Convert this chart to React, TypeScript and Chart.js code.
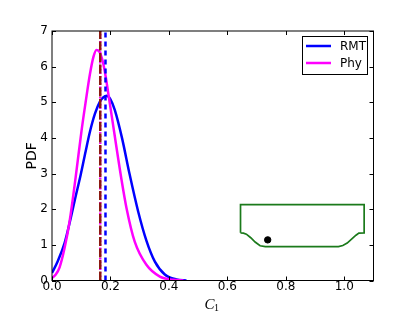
import React, { useEffect, useRef } from "react";
import { Chart, registerables } from "chart.js";

Chart.register(...registerables);

const rmtX = [0, 0.02, 0.043, 0.064, 0.08, 0.098, 0.115, 0.13, 0.147, 0.164, 0.176, 0.187, 0.2, 0.215, 0.24, 0.265, 0.295, 0.323, 0.352, 0.386, 0.426, 0.46];
const rmtY = [0.21, 0.55, 1.05, 1.75, 2.33, 2.96, 3.62, 4.18, 4.68, 5.02, 5.14, 5.18, 5.08, 4.78, 3.98, 3.0, 1.93, 1.12, 0.53, 0.17, 0.03, 0];
const phyX = [0, 0.012, 0.026, 0.043, 0.06, 0.081, 0.101, 0.115, 0.13, 0.142, 0.152, 0.162, 0.172, 0.181, 0.2, 0.238, 0.255, 0.283, 0.323, 0.369, 0.414, 0.45];
const phyY = [0.07, 0.16, 0.37, 0.91, 1.65, 2.9, 4.2, 5.0, 5.8, 6.28, 6.47, 6.42, 6.2, 5.85, 4.85, 2.82, 2.03, 1.09, 0.44, 0.11, 0.02, 0];
const meanRmtX = [0.183, 0.183];
const meanPhyX = [0.165, 0.165];
const meanY = [0, 7];
const shapeX = [0.645, 0.645, 1.068, 1.068, 1.05, 1.04, 1.025, 1.01, 0.995, 0.98, 0.73, 0.712, 0.695, 0.68, 0.665, 0.655, 0.645];
const shapeY = [1.337, 2.13, 2.13, 1.337, 1.33, 1.27, 1.16, 1.05, 0.98, 0.953, 0.953, 0.975, 1.08, 1.2, 1.3, 1.33, 1.337];
const dotX = [0.738];
const dotY = [1.14];
const xTicks = [0, 0.2, 0.4, 0.6, 0.8, 1.0];
const yTicks = [0, 1, 2, 3, 4, 5, 6, 7];
const seriesNames = ["RMT", "Phy"];
const seriesColors = ["#0000ff", "#ff00ff"];
const yTitle = "PDF";

const pts = (xs: number[], ys: number[]) => xs.map((x, i) => ({ x, y: ys[i] }));

const frame = {
  id: "frame",
  afterDatasetsDraw(chart: any) {
    const { ctx, chartArea: a, scales } = chart;
    ctx.save();
    ctx.strokeStyle = "#000";
    ctx.lineWidth = 1;
    ctx.beginPath();
    for (const t of xTicks) {
      const p = Math.round(scales.x.getPixelForValue(t)) + 0.5;
      ctx.moveTo(p, a.bottom);
      ctx.lineTo(p, a.bottom - 4);
      ctx.moveTo(p, a.top);
      ctx.lineTo(p, a.top + 4);
    }
    for (const t of yTicks) {
      const p = Math.round(scales.y.getPixelForValue(t)) + 0.5;
      ctx.moveTo(a.left, p);
      ctx.lineTo(a.left + 4, p);
      ctx.moveTo(a.right, p);
      ctx.lineTo(a.right - 4, p);
    }
    ctx.stroke();
    ctx.strokeRect(a.left, a.top, a.right - a.left, a.bottom - a.top);

    // legend
    ctx.fillStyle = "#fff";
    ctx.fillRect(302.5, 36.5, 65, 38);
    ctx.strokeStyle = "#000";
    ctx.strokeRect(302.5, 36.5, 65, 38);
    const rows = [46, 63];
    ctx.font = "12px 'DejaVu Sans'";
    ctx.textBaseline = "middle";
    seriesNames.forEach((name, i) => {
      ctx.strokeStyle = seriesColors[i];
      ctx.lineWidth = 2.5;
      ctx.beginPath();
      ctx.moveTo(306, rows[i]);
      ctx.lineTo(331, rows[i]);
      ctx.stroke();
      ctx.fillStyle = "#000";
      ctx.fillText(name, 340, rows[i] + 0.5);
    });

    // x axis title with its subscript
    ctx.textBaseline = "alphabetic";
    ctx.fillStyle = "#000";
    ctx.font = "italic 15px 'Liberation Serif'";
    ctx.fillText("C", 204.5, 308.5);
    ctx.font = "10px 'Liberation Serif'";
    ctx.fillText("1", 214, 311);
    ctx.restore();
  },
};

export default function App() {
  const ref = useRef<HTMLCanvasElement>(null);
  useEffect(() => {
    const chart = new Chart(ref.current!, {
      type: "scatter",
      data: {
        datasets: [
          { label: "mean Phy", data: pts(meanPhyX, meanY), showLine: true, borderColor: "#8b1a10", borderWidth: 2.5, borderDash: [9, 2.5], pointRadius: 0 },
          { label: "mean Phy b", data: pts(meanPhyX, meanY), showLine: true, borderColor: "#ff00ff", borderWidth: 2.5, borderDash: [1.5, 2], pointRadius: 0 },
          { label: "mean RMT", data: pts(meanRmtX, meanY), showLine: true, borderColor: "#0000ff", borderWidth: 2.5, borderDash: [5, 4], pointRadius: 0 },
          { label: seriesNames[1], data: pts(phyX, phyY), showLine: true, borderColor: seriesColors[1], borderWidth: 2.5, cubicInterpolationMode: "monotone", pointRadius: 0 },
          { label: seriesNames[0], data: pts(rmtX, rmtY), showLine: true, borderColor: seriesColors[0], borderWidth: 2.5, cubicInterpolationMode: "monotone", pointRadius: 0 },
          { label: "section", data: pts(shapeX, shapeY), showLine: true, borderColor: "#1b7a1b", borderWidth: 1.7, tension: 0, pointRadius: 0 },
          { label: "point", data: pts(dotX, dotY), showLine: false, backgroundColor: "#000", borderColor: "#000", pointRadius: 3.2 },
        ],
      },
      options: {
        animation: false,
        responsive: false,
        layout: { padding: { left: 0, top: 31, right: 41.5, bottom: 0 } },
        plugins: { legend: { display: false }, tooltip: { enabled: false } },
        scales: {
          x: {
            type: "linear",
            min: 0,
            max: 1.1,
            border: { display: false },
            grid: { display: false, drawTicks: false },
            afterFit: (s: any) => { s.height = 31.5; },
            ticks: {
              stepSize: 0.2,
              includeBounds: false,
              autoSkip: false,
              maxRotation: 0,
              padding: -1,
              color: "#000",
              font: { family: "'DejaVu Sans'", size: 12 },
              callback: (v: any) => Number(v).toFixed(1),
            },
          },
          y: {
            min: 0,
            max: 7,
            border: { display: false },
            grid: { display: false, drawTicks: false },
            afterFit: (s: any) => { s.width = 52; },
            ticks: {
              stepSize: 1,
              autoSkip: false,
              padding: 4,
              color: "#000",
              font: { family: "'DejaVu Sans'", size: 12 },
            },
            title: { display: true, text: yTitle, color: "#000", font: { family: "'DejaVu Sans'", size: 14 }, padding: { top: 24, bottom: 0 } },
          },
        },
      },
      plugins: [frame],
    } as any);
    return () => chart.destroy();
  }, []);
  return (
    <div style={{ position: "fixed", left: 0, top: 0, width: 415, height: 312, background: "#fff" }}>
      <canvas ref={ref} width={415} height={312} style={{ display: "block" }} />
    </div>
  );
}
